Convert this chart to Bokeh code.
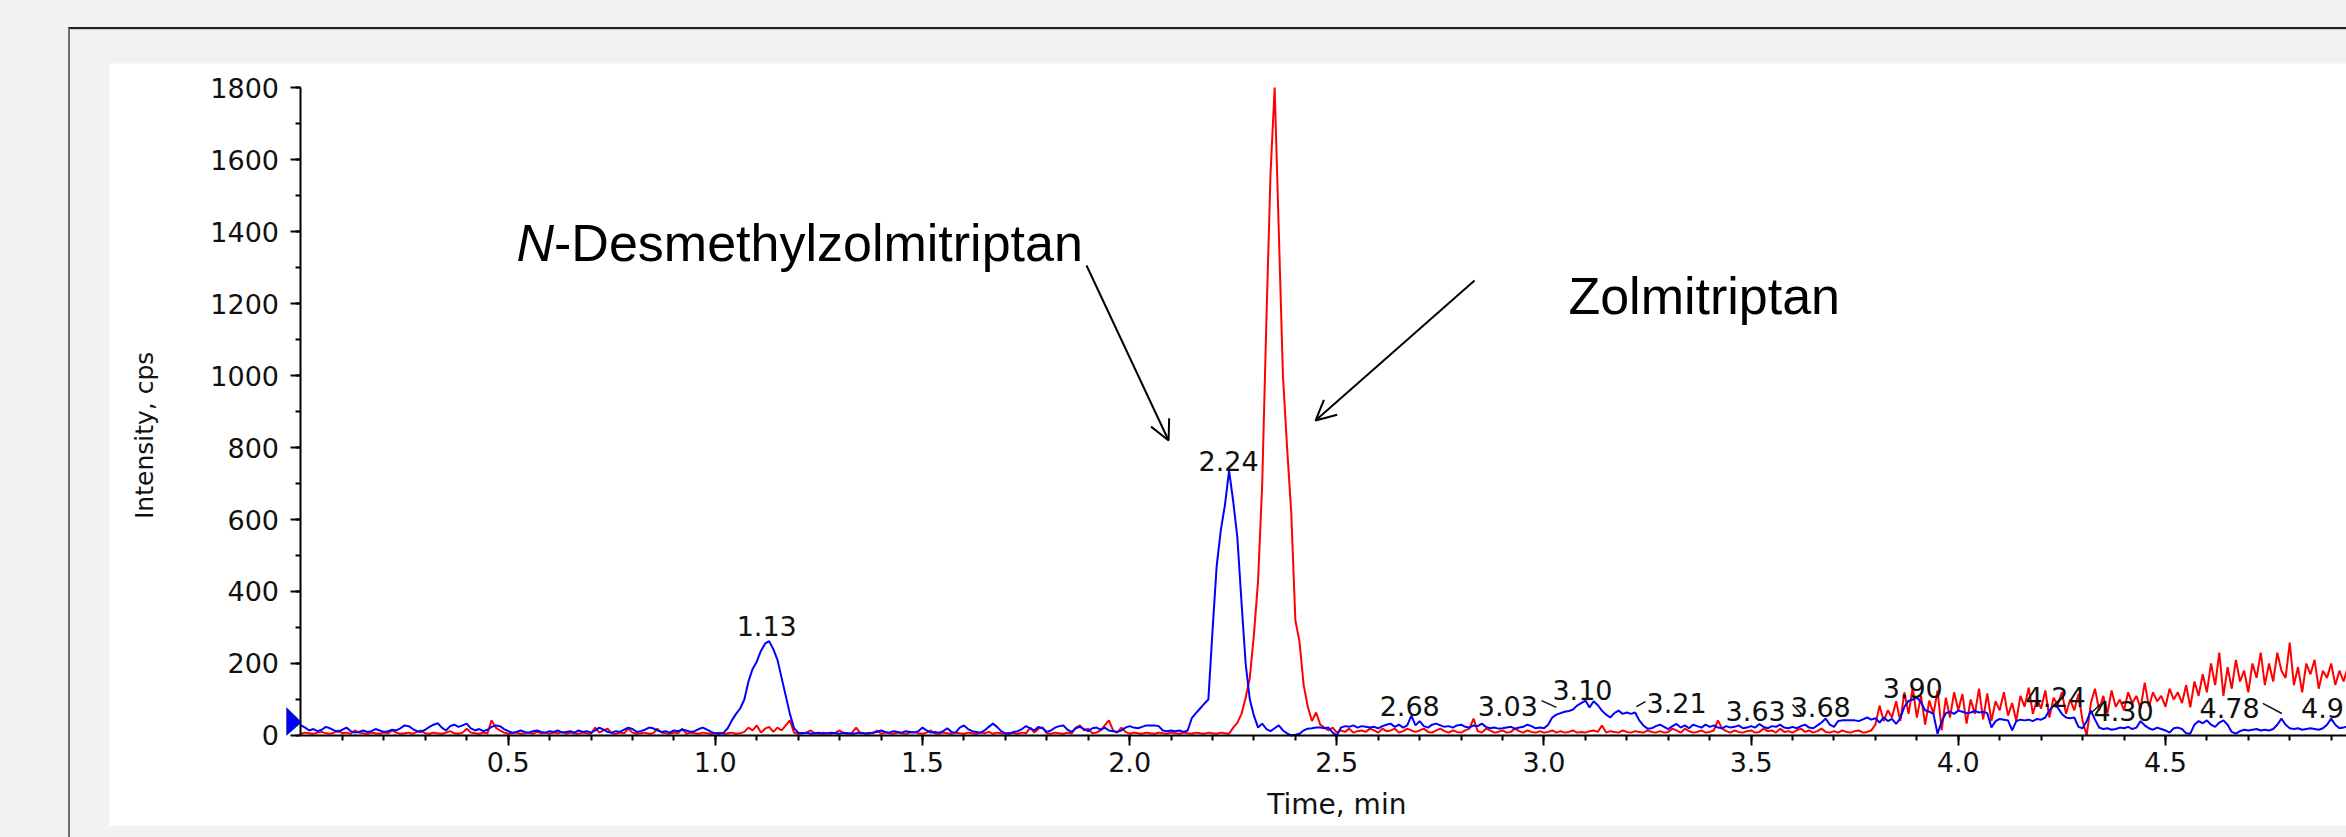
import numpy as np
from bokeh.plotting import figure
from bokeh.layouts import column
from bokeh.models import (Range1d, FixedTicker, NumeralTickFormatter,
                          PolyAnnotation, Arrow, OpenHead, Label)
from bokeh.core.properties import value
from bokeh.embed import file_html
from bokeh.resources import INLINE

# ---------------- data ----------------
time_start = 0.0
time_step = 0.01   # min, sampling interval of the traces below

# N-Desmethylzolmitriptan (blue), cps, one row = 0.1 min
blue_cps = [
    28, 22, 14, 18, 12, 16, 24, 20, 14, 10,
    16, 22, 12, 8, 10, 14, 10, 12, 18, 14,
    10, 12, 16, 14, 20, 28, 26, 18, 12, 10,
    16, 24, 30, 34, 22, 14, 26, 30, 24, 28,
    33, 20, 14, 18, 12, 16, 24, 28, 26, 18,
    12, 8, 10, 14, 10, 8, 12, 14, 10, 8,
    12, 10, 14, 8, 10, 12, 8, 14, 10, 12,
    8, 14, 22, 16, 10, 8, 12, 10, 16, 22,
    18, 10, 12, 16, 22, 20, 14, 10, 12, 8,
    14, 12, 16, 14, 10, 12, 18, 22, 16, 10,
    6, 5, 8, 20, 42, 60, 75, 100, 150, 185,
    205, 235, 255, 262, 240, 210, 160, 110, 60, 20,
    8, 6, 8, 5, 6, 8, 5, 6, 8, 6,
    5, 8, 6, 5, 6, 8, 6, 5, 8, 10,
    14, 10, 8, 12, 10, 8, 12, 10, 8, 12,
    22, 14, 8, 10, 8, 12, 20, 10, 8, 22,
    28, 18, 12, 10, 8, 14, 24, 33, 24, 12,
    6, 5, 10, 12, 18, 26, 20, 14, 24, 20,
    10, 14, 22, 26, 28, 16, 10, 20, 24, 18,
    12, 20, 22, 16, 22, 14, 12, 10, 14, 22,
    26, 22, 20, 24, 28, 28, 28, 26, 14, 12,
    14, 12, 14, 10, 14, 48, 62, 75, 88, 100,
    290, 470, 570, 640, 736, 650, 550, 370, 200, 100,
    55, 22, 33, 18, 12, 20, 28, 14, 6, 0,
    2, 5, 14, 19, 20, 22, 22, 20, 22, 8,
    0, 22, 26, 24, 28, 22, 26, 24, 22, 24,
    20, 26, 30, 33, 24, 30, 22, 28, 55, 28,
    40, 26, 22, 30, 33, 28, 24, 26, 22, 28,
    30, 24, 22, 28, 26, 33, 24, 20, 22, 19,
    20, 22, 24, 19, 22, 24, 30, 26, 20, 22,
    20, 30, 50, 58, 62, 66, 68, 72, 83, 90,
    97, 78, 95, 84, 69, 58, 50, 62, 69, 60,
    64, 60, 64, 42, 28, 19, 20, 26, 30, 24,
    18, 26, 32, 22, 28, 20, 30, 26, 22, 30,
    24, 28, 22, 20, 26, 22, 24, 28, 20, 22,
    26, 22, 32, 24, 20, 26, 24, 30, 22, 20,
    24, 20, 26, 30, 22, 20, 28, 36, 47, 30,
    24, 40, 42, 42, 42, 42, 40, 45, 50, 44,
    48, 36, 50, 40, 46, 32, 48, 80, 96, 100,
    106, 92, 70, 66, 60, 5, 40, 62, 66, 60,
    69, 66, 62, 64, 68, 64, 66, 62, 22, 40,
    46, 44, 42, 14, 40, 44, 42, 44, 40, 46,
    44, 50, 70, 83, 78, 60, 50, 48, 50, 24,
    20, 40, 69, 44, 22, 18, 20, 16, 18, 22,
    20, 24, 18, 22, 40, 28, 20, 16, 22, 18,
    14, 8, 20, 22, 18, 6, 5, 30, 40, 34,
    42, 30, 24, 36, 42, 30, 10, 5, 12, 16,
    14, 16, 18, 14, 16, 14, 18, 30, 47, 30,
    20, 18, 20, 16, 18, 20, 18, 16, 20, 30,
    47, 30, 20, 22, 26,
]

# Zolmitriptan (red), cps, one row = 0.1 min
red_cps = [
    5, 8, 6, 5, 8, 10, 6, 5, 8, 14,
    6, 8, 5, 14, 8, 6, 5, 8, 6, 5,
    8, 6, 14, 8, 5, 6, 8, 5, 10, 14,
    6, 5, 8, 6, 5, 8, 12, 6, 5, 8,
    19, 8, 6, 5, 8, 6, 42, 22, 14, 8,
    5, 6, 8, 5, 6, 8, 5, 10, 6, 8,
    5, 8, 6, 10, 5, 8, 6, 5, 8, 6,
    5, 22, 8, 14, 19, 6, 5, 8, 6, 19,
    8, 5, 6, 8, 5, 6, 19, 8, 6, 5,
    8, 6, 19, 5, 8, 6, 5, 8, 6, 5,
    6, 8, 5, 6, 8, 5, 6, 10, 22, 14,
    28, 8, 19, 24, 10, 22, 14, 28, 42, 8,
    5, 6, 8, 14, 6, 5, 8, 6, 5, 8,
    14, 6, 5, 8, 22, 6, 5, 8, 6, 14,
    5, 8, 6, 5, 8, 6, 5, 8, 10, 6,
    5, 8, 14, 6, 5, 8, 6, 5, 8, 6,
    5, 8, 6, 5, 8, 6, 10, 5, 8, 6,
    5, 8, 6, 5, 8, 6, 22, 8, 19, 22,
    6, 5, 8, 6, 5, 8, 6, 22, 28, 14,
    19, 6, 8, 14, 28, 42, 14, 8, 22, 10,
    5, 8, 6, 5, 8, 6, 5, 8, 6, 5,
    8, 6, 5, 8, 6, 5, 8, 6, 5, 8,
    6, 5, 8, 6, 5, 22, 35, 60, 105, 160,
    280, 430, 700, 1150, 1560, 1800, 1400, 1000, 800, 620,
    320, 260, 140, 80, 40, 64, 30, 22, 14, 22,
    8, 14, 10, 19, 8, 12, 14, 10, 19, 14,
    8, 19, 12, 14, 19, 8, 12, 19, 14, 10,
    14, 19, 10, 8, 14, 19, 12, 8, 14, 10,
    8, 14, 19, 47, 12, 8, 19, 14, 8, 10,
    14, 8, 10, 19, 12, 8, 14, 10, 8, 12,
    8, 10, 14, 8, 12, 8, 10, 14, 8, 10,
    8, 12, 14, 10, 28, 8, 12, 10, 8, 14,
    10, 8, 12, 10, 8, 14, 10, 8, 12, 8,
    10, 19, 14, 8, 19, 12, 8, 10, 14, 8,
    10, 14, 42, 19, 12, 8, 14, 10, 8, 12,
    14, 8, 10, 19, 12, 14, 8, 19, 10, 12,
    8, 14, 19, 10, 14, 8, 12, 19, 10, 8,
    12, 8, 14, 10, 8, 12, 14, 8, 10, 14,
    30, 83, 40, 70, 50, 95, 40, 120, 60, 133,
    50, 110, 30, 97, 60, 125, 14, 105, 50, 120,
    70, 115, 33, 100, 60, 130, 45, 117, 40, 95,
    70, 120, 55, 90, 40, 110, 80, 133, 60, 100,
    75, 125, 50, 105, 85, 120, 60, 100, 70, 115,
    40, 0, 90, 130, 70, 110, 61, 125, 80, 100,
    70, 120, 90, 110, 75, 147, 80, 120, 95, 110,
    80, 130, 100, 120, 90, 140, 78, 150, 110, 170,
    120, 200, 140, 230, 110, 190, 130, 210, 150, 180,
    120, 200, 160, 230, 140, 200, 150, 230, 180, 160,
    258, 140, 190, 120, 200, 170, 210, 130, 180, 160,
    200, 140, 180, 150, 190,
]

time_min = [round(time_start + i * time_step, 2) for i in range(len(blue_cps))]

# retention-time labels printed by the software
peak_labels = ["1.13", "2.24", "2.68", "3.03", "3.10", "3.21", "3.63",
               "3.68", "3.90", "4.24", "4.30", "4.78", "4.91"]

x_ticks = [0.5, 1.0, 1.5, 2.0, 2.5, 3.0, 3.5, 4.0, 4.5]
y_ticks = [0, 200, 400, 600, 800, 1000, 1200, 1400, 1600, 1800]

# ---------------- layout / positions ----------------
label_x = [1.124, 2.239, 2.676, 2.913, 3.093, 3.320, 3.511,
           3.668, 3.890, 4.235, 4.399, 4.655, 4.900]
label_y = [305, 762, 83, 83, 125, 89, 69, 78, 131, 106, 67, 75, 75]

# The frame fills the white panel; both axes are pinned at 0 inside it.
X_START, X_END = -0.4622, 4.937
Y_START, Y_END = -252.8, 1866.7
X_AXIS_END = 5.0     # the time axis runs on past the cropped right edge
TICK_FONT = "DejaVu Sans"

p = figure(width=2237, height=763, output_backend="svg", toolbar_location=None,
           x_range=Range1d(X_START, X_END), y_range=Range1d(Y_START, Y_END),
           min_border_left=0, min_border_right=0, min_border_top=0,
           min_border_bottom=0)
p.border_fill_color = "white"
p.background_fill_color = "white"
p.outline_line_color = None
p.grid.visible = False
p.margin = (34, 0, 11, 39)

p.xaxis.ticker = FixedTicker(ticks=x_ticks,
                             minor_ticks=[round(0.1 * i, 1) for i in range(1, 50)])
p.yaxis.ticker = FixedTicker(ticks=y_ticks,
                             minor_ticks=[100 * i for i in range(0, 19)])
p.xaxis.formatter = NumeralTickFormatter(format="0.0")
p.yaxis.formatter = NumeralTickFormatter(format="0")
p.yaxis.fixed_location = 0
p.xaxis.fixed_location = 0
p.xaxis.bounds = (0, X_AXIS_END)
p.yaxis.bounds = (0, 1800)

for ax in (p.xaxis[0], p.yaxis[0]):
    ax.axis_line_width = 2
    ax.axis_line_color = "black"
    ax.major_tick_line_width = 2
    ax.minor_tick_line_width = 2
    ax.major_tick_line_color = "black"
    ax.minor_tick_line_color = "black"
    ax.major_tick_out = 10
    ax.major_tick_in = 0
    ax.minor_tick_out = 5
    ax.minor_tick_in = 0
    ax.major_label_text_font = TICK_FONT
    ax.major_label_text_font_size = "27px"
    ax.major_label_text_color = "#111111"
    ax.axis_label_text_font = TICK_FONT
    ax.axis_label_text_font_style = "normal"
    ax.axis_label_text_color = "#111111"

p.xaxis.axis_label = "\u00a0" * 3 + "Time, min"
p.yaxis.axis_label = "Intensity, cps" + "\u00a0" * 6
p.xaxis.axis_label_text_font_size = "28px"
p.yaxis.axis_label_text_font_size = "25px"
p.xaxis.major_label_standoff = 7
p.xaxis.axis_label_standoff = 12
p.yaxis.major_label_standoff = 12
p.yaxis.axis_label_standoff = 48

# traces
p.line(time_min, red_cps, line_color="#ff0000", line_width=2)
p.line(time_min, blue_cps, line_color="#0000ff", line_width=2)

# peak labels
p.text(x=label_x, y=label_y, text=peak_labels, text_font=value(TICK_FONT),
       text_font_size="27px", text_align="center", text_baseline="alphabetic",
       text_color="#111111")

# small leader marks next to shifted labels
p.segment(x0=[2.994, 3.223, 3.600, 4.319, 4.735],
          y0=[97, 80, 86, 61, 89],
          x1=[3.030, 3.245, 3.627, 4.343, 4.781],
          y1=[78, 94, 53, 86, 61],
          line_color="#111111", line_width=1.5)

# baseline marker at the origin
p.add_layout(PolyAnnotation(xs=[-0.035, 0.0015, -0.035], ys=[0, 37, 78],
                            fill_color="#0000ff", fill_alpha=1,
                            line_color="black", line_width=1))

# compound annotations
p.add_layout(Label(x=0.5202, y=1366.7, text="N", text_font="Liberation Sans",
                   text_font_style="italic", text_font_size="52px",
                   text_baseline="alphabetic", text_color="black"))
p.add_layout(Label(x=0.5202, y=1366.7, x_offset=37.5, text="-Desmethylzolmitriptan",
                   text_font="Liberation Sans", text_font_size="52px",
                   text_baseline="alphabetic", text_color="black"))
p.add_layout(Label(x=3.059, y=1222, text="Zolmitriptan",
                   text_font="Liberation Sans", text_font_size="52px",
                   text_baseline="alphabetic", text_color="black"))

p.add_layout(Arrow(end=OpenHead(size=20, line_width=2, line_color="black"),
                   x_start=1.896, y_start=1305.6, x_end=2.094, y_end=819.4,
                   line_width=2, line_color="black"))
p.add_layout(Arrow(end=OpenHead(size=20, line_width=2, line_color="black"),
                   x_start=2.8325, y_start=1263.9, x_end=2.4487, y_end=875,
                   line_width=2, line_color="black"))

# page frame around the figure (gray page, framed box)
inner = column(p, margin=(27, 0, 0, 68),
               styles={"background-color": "#f2f2f2",
                       "border-top": "2px solid #222222",
                       "border-left": "2px solid #707070",
                       "box-shadow": "inset 0 1px 0 #d0d0d0"})
page = column(inner, styles={"background-color": "#f2f2f2"})

open("out.html", "w").write(file_html(page, INLINE))
